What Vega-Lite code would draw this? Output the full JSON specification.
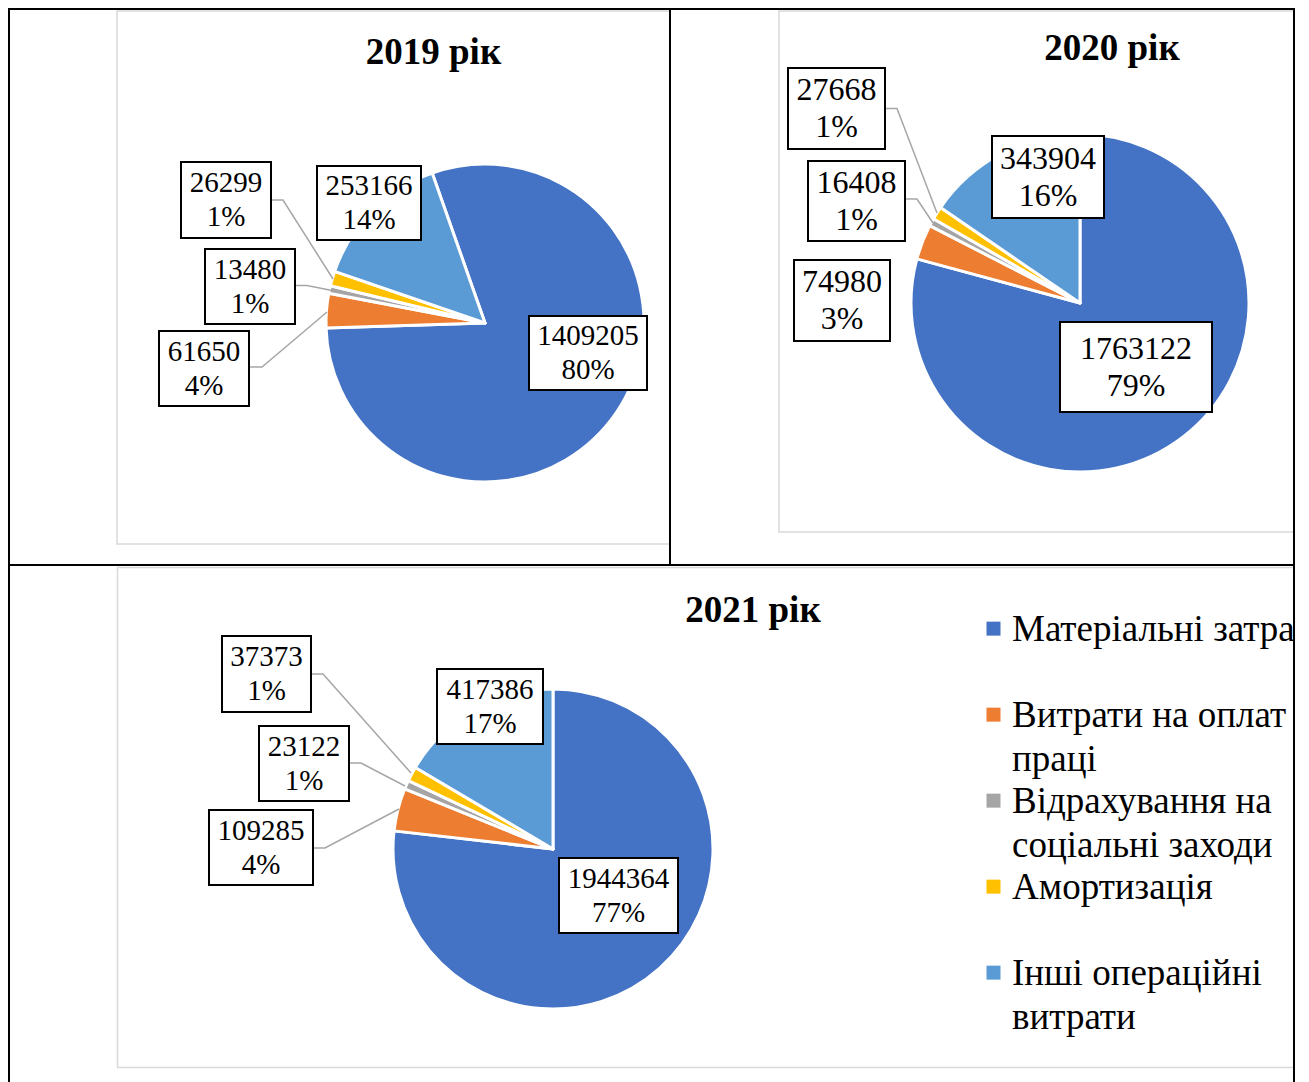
{
  "$schema": "https://vega.github.io/schema/vega-lite/v6.json",
  "background": "white",
  "padding": {"left": 7, "top": 6, "right": 0, "bottom": 0},
  "spacing": -2,
  "config": {
    "view": {"stroke": "black", "strokeWidth": 2},
    "font": "Liberation Serif",
    "title": {"font": "Liberation Serif", "fontSize": 37, "fontWeight": "bold", "color": "black", "baseline": "alphabetic", "anchor": "middle"},
    "text": {"font": "Liberation Serif", "align": "center", "baseline": "middle", "lineBreak": "\n", "color": "black"}
  },
  "datasets": {
    "costs": [
      {"year": 2019, "n": 1, "category": "Матеріальні затрати", "value": 1409205, "pct": 80},
      {"year": 2019, "n": 2, "category": "Витрати на оплату праці", "value": 61650, "pct": 4},
      {"year": 2019, "n": 3, "category": "Відрахування на соціальні заходи", "value": 13480, "pct": 1},
      {"year": 2019, "n": 4, "category": "Амортизація", "value": 26299, "pct": 1},
      {"year": 2019, "n": 5, "category": "Інші операційні витрати", "value": 253166, "pct": 14},
      {"year": 2020, "n": 1, "category": "Матеріальні затрати", "value": 1763122, "pct": 79},
      {"year": 2020, "n": 2, "category": "Витрати на оплату праці", "value": 74980, "pct": 3},
      {"year": 2020, "n": 3, "category": "Відрахування на соціальні заходи", "value": 16408, "pct": 1},
      {"year": 2020, "n": 4, "category": "Амортизація", "value": 27668, "pct": 1},
      {"year": 2020, "n": 5, "category": "Інші операційні витрати", "value": 343904, "pct": 16},
      {"year": 2021, "n": 1, "category": "Матеріальні затрати", "value": 1944364, "pct": 77},
      {"year": 2021, "n": 2, "category": "Витрати на оплату праці", "value": 109285, "pct": 4},
      {"year": 2021, "n": 3, "category": "Відрахування на соціальні заходи", "value": 23122, "pct": 1},
      {"year": 2021, "n": 4, "category": "Амортизація", "value": 37373, "pct": 1},
      {"year": 2021, "n": 5, "category": "Інші операційні витрати", "value": 417386, "pct": 17}
    ]
  },
  "vconcat": [
    {
      "spacing": 0,
      "bounds": "flush",
      "hconcat": [
        {
          "width": 661, "height": 554,
          "view": {"stroke": "black", "strokeWidth": 2, "strokeCap": "square", "strokeDash": [1215, 661, 554]},
          "title": {"text": "2019 рік", "offset": -64, "dx": 94},
          "data": {"name": "costs"},
          "transform": [{"filter": "datum.year == 2019"}, {"calculate": "datum.value + '\\n' + datum.pct + '%'", "as": "lbl"}],
          "layer": [
            {"transform": [{"filter": "datum.n == 1"}], "mark": {"type": "point", "shape": "M329.5,-275H-222.5V258H329.5", "size": 4, "filled": false, "stroke": "#D9D9D9", "strokeWidth": 1.5, "opacity": 1}, "encoding": {}},
            {"mark": {"type": "arc", "outerRadius": 159, "xOffset": 145.5, "yOffset": 37, "stroke": "white", "strokeWidth": 3, "strokeJoin": "round"},
             "encoding": {
               "theta": {"field": "value", "type": "quantitative", "stack": true, "scale": {"range": [-0.3386, 5.9446]}},
               "color": {"field": "category", "type": "nominal", "scale": {"domain": ["Матеріальні затрати", "Витрати на оплату праці", "Відрахування на соціальні заходи", "Амортизація", "Інші операційні витрати"], "range": ["#4472C4", "#ED7D31", "#A5A5A5", "#FFC000", "#5B9BD5"]}, "legend": null},
               "order": {"field": "n", "type": "quantitative", "sort": "ascending"}
             }},
            {"transform": [{"filter": "datum.n == 1"}], "layer": [
              {"mark": {"type": "point", "shape": "M-59,-37H59V37H-59Z", "size": 4, "filled": true, "fill": "white", "stroke": "black", "strokeWidth": 2, "opacity": 1, "xOffset": 248.5, "yOffset": 67}, "encoding": {}},
              {"mark": {"type": "text", "fontSize": 29, "lineHeight": 34, "dx": 248.5, "dy": 50}, "encoding": {"text": {"field": "lbl", "type": "nominal"}}}
            ]},
            {"transform": [{"filter": "datum.n == 5"}], "layer": [
              {"mark": {"type": "point", "shape": "M-52,-37H52V37H-52Z", "size": 4, "filled": true, "fill": "white", "stroke": "black", "strokeWidth": 2, "opacity": 1, "xOffset": 29.5, "yOffset": -83}, "encoding": {}},
              {"mark": {"type": "text", "fontSize": 29, "lineHeight": 34, "dx": 29.5, "dy": -100}, "encoding": {"text": {"field": "lbl", "type": "nominal"}}}
            ]},
            {"transform": [{"filter": "datum.n == 4"}], "layer": [
              {"mark": {"type": "point", "shape": "M46,0L57,0L107,79", "size": 4, "filled": false, "stroke": "#A6A6A6", "strokeWidth": 1.5, "opacity": 1, "xOffset": -113.5, "yOffset": -86}, "encoding": {}},
              {"mark": {"type": "point", "shape": "M-45,-38H45V38H-45Z", "size": 4, "filled": true, "fill": "white", "stroke": "black", "strokeWidth": 2, "opacity": 1, "xOffset": -113.5, "yOffset": -86}, "encoding": {}},
              {"mark": {"type": "text", "fontSize": 29, "lineHeight": 34, "dx": -113.5, "dy": -103}, "encoding": {"text": {"field": "lbl", "type": "nominal"}}}
            ]},
            {"transform": [{"filter": "datum.n == 3"}], "layer": [
              {"mark": {"type": "point", "shape": "M46,-1L57,-1L82,4", "size": 4, "filled": false, "stroke": "#A6A6A6", "strokeWidth": 1.5, "opacity": 1, "xOffset": -89.5, "yOffset": 0.5}, "encoding": {}},
              {"mark": {"type": "point", "shape": "M-45,-37.5H45V37.5H-45Z", "size": 4, "filled": true, "fill": "white", "stroke": "black", "strokeWidth": 2, "opacity": 1, "xOffset": -89.5, "yOffset": 0.5}, "encoding": {}},
              {"mark": {"type": "text", "fontSize": 29, "lineHeight": 34, "dx": -89.5, "dy": -16.5}, "encoding": {"text": {"field": "lbl", "type": "nominal"}}}
            ]},
            {"transform": [{"filter": "datum.n == 2"}], "layer": [
              {"mark": {"type": "point", "shape": "M46,-1.5L58,-1.5L123,-56.5", "size": 4, "filled": false, "stroke": "#A6A6A6", "strokeWidth": 1.5, "opacity": 1, "xOffset": -135.5, "yOffset": 82.5}, "encoding": {}},
              {"mark": {"type": "point", "shape": "M-45,-37.5H45V37.5H-45Z", "size": 4, "filled": true, "fill": "white", "stroke": "black", "strokeWidth": 2, "opacity": 1, "xOffset": -135.5, "yOffset": 82.5}, "encoding": {}},
              {"mark": {"type": "text", "fontSize": 29, "lineHeight": 34, "dx": -135.5, "dy": 65.5}, "encoding": {"text": {"field": "lbl", "type": "nominal"}}}
            ]}
          ]
        },
        {
          "width": 624, "height": 554,
          "view": {"stroke": "black", "strokeWidth": 2, "strokeCap": "square", "strokeDash": [1178, 624, 554]},
          "title": {"text": "2020 рік", "offset": -60, "dx": 130},
          "data": {"name": "costs"},
          "transform": [{"filter": "datum.year == 2020"}, {"calculate": "datum.value + '\\n' + datum.pct + '%'", "as": "lbl"}],
          "layer": [
            {"transform": [{"filter": "datum.n == 1"}], "mark": {"type": "point", "shape": "M311,-275H-203V246H311", "size": 4, "filled": false, "stroke": "#D9D9D9", "strokeWidth": 1.5, "opacity": 1}, "encoding": {}},
            {"mark": {"type": "arc", "outerRadius": 169, "xOffset": 98, "yOffset": 17, "stroke": "white", "strokeWidth": 3, "strokeJoin": "round"},
             "encoding": {
               "theta": {"field": "value", "type": "quantitative", "stack": true, "scale": {"range": [0, 6.2832]}},
               "color": {"field": "category", "type": "nominal", "scale": {"domain": ["Матеріальні затрати", "Витрати на оплату праці", "Відрахування на соціальні заходи", "Амортизація", "Інші операційні витрати"], "range": ["#4472C4", "#ED7D31", "#A5A5A5", "#FFC000", "#5B9BD5"]}, "legend": null},
               "order": {"field": "n", "type": "quantitative", "sort": "ascending"}
             }},
            {"transform": [{"filter": "datum.n == 1"}], "layer": [
              {"mark": {"type": "point", "shape": "M-76,-45H76V45H-76Z", "size": 4, "filled": true, "fill": "white", "stroke": "black", "strokeWidth": 2, "opacity": 1, "xOffset": 154, "yOffset": 81}, "encoding": {}},
              {"mark": {"type": "text", "fontSize": 32, "lineHeight": 37, "dx": 154, "dy": 62.5}, "encoding": {"text": {"field": "lbl", "type": "nominal"}}}
            ]},
            {"transform": [{"filter": "datum.n == 5"}], "layer": [
              {"mark": {"type": "point", "shape": "M-56,-41H56V41H-56Z", "size": 4, "filled": true, "fill": "white", "stroke": "black", "strokeWidth": 2, "opacity": 1, "xOffset": 66, "yOffset": -109}, "encoding": {}},
              {"mark": {"type": "text", "fontSize": 32, "lineHeight": 37, "dx": 66, "dy": -127.5}, "encoding": {"text": {"field": "lbl", "type": "nominal"}}}
            ]},
            {"transform": [{"filter": "datum.n == 4"}], "layer": [
              {"mark": {"type": "point", "shape": "M48.5,0L60.5,0L100.5,104.5", "size": 4, "filled": false, "stroke": "#A6A6A6", "strokeWidth": 1.5, "opacity": 1, "xOffset": -145.5, "yOffset": -177.5}, "encoding": {}},
              {"mark": {"type": "point", "shape": "M-48.5,-40.5H48.5V40.5H-48.5Z", "size": 4, "filled": true, "fill": "white", "stroke": "black", "strokeWidth": 2, "opacity": 1, "xOffset": -145.5, "yOffset": -177.5}, "encoding": {}},
              {"mark": {"type": "text", "fontSize": 32, "lineHeight": 37, "dx": -145.5, "dy": -196}, "encoding": {"text": {"field": "lbl", "type": "nominal"}}}
            ]},
            {"transform": [{"filter": "datum.n == 3"}], "layer": [
              {"mark": {"type": "point", "shape": "M49.5,-2L60.5,-2L76.5,22", "size": 4, "filled": false, "stroke": "#A6A6A6", "strokeWidth": 1.5, "opacity": 1, "xOffset": -125.5, "yOffset": -85}, "encoding": {}},
              {"mark": {"type": "point", "shape": "M-48.5,-40H48.5V40H-48.5Z", "size": 4, "filled": true, "fill": "white", "stroke": "black", "strokeWidth": 2, "opacity": 1, "xOffset": -125.5, "yOffset": -85}, "encoding": {}},
              {"mark": {"type": "text", "fontSize": 32, "lineHeight": 37, "dx": -125.5, "dy": -103.5}, "encoding": {"text": {"field": "lbl", "type": "nominal"}}}
            ]},
            {"transform": [{"filter": "datum.n == 2"}], "layer": [
              {"mark": {"type": "point", "shape": "M-48,-40.5H48V40.5H-48Z", "size": 4, "filled": true, "fill": "white", "stroke": "black", "strokeWidth": 2, "opacity": 1, "xOffset": -140, "yOffset": 14.5}, "encoding": {}},
              {"mark": {"type": "text", "fontSize": 32, "lineHeight": 37, "dx": -140, "dy": -4}, "encoding": {"text": {"field": "lbl", "type": "nominal"}}}
            ]}
          ]
        }
      ]
    },
    {
      "width": 1285, "height": 516,
      "view": {"stroke": "black", "strokeWidth": 2, "strokeCap": "square", "strokeDash": [1801, 1285, 516]},
      "title": {"text": "2021 рік", "offset": -65, "dx": 101.5},
      "data": {"name": "costs"},
      "transform": [
        {"filter": "datum.year == 2021"},
        {"calculate": "datum.value + '\\n' + datum.pct + '%'", "as": "lbl"},
        {"calculate": "datum.n == 2 ? 'Витрати на оплату\\nпраці' : datum.n == 3 ? 'Відрахування на\\nсоціальні заходи' : datum.n == 5 ? 'Інші операційні\\nвитрати' : datum.category", "as": "leg"}
      ],
      "layer": [
        {"transform": [{"filter": "datum.n == 1"}], "mark": {"type": "point", "shape": "M641.5,-255.5H-534V244.5H641.5", "size": 4, "filled": false, "stroke": "#D9D9D9", "strokeWidth": 1.5, "opacity": 1}, "encoding": {}},
        {"mark": {"type": "arc", "outerRadius": 160, "xOffset": -98.5, "yOffset": 26, "stroke": "white", "strokeWidth": 3, "strokeJoin": "round"},
         "encoding": {
           "theta": {"field": "value", "type": "quantitative", "stack": true, "scale": {"range": [0, 6.2832]}},
           "color": {"field": "category", "type": "nominal", "scale": {"domain": ["Матеріальні затрати", "Витрати на оплату праці", "Відрахування на соціальні заходи", "Амортизація", "Інші операційні витрати"], "range": ["#4472C4", "#ED7D31", "#A5A5A5", "#FFC000", "#5B9BD5"]}, "legend": null},
           "order": {"field": "n", "type": "quantitative", "sort": "ascending"}
         }},
        {"transform": [{"filter": "datum.n == 1"}], "layer": [
          {"mark": {"type": "point", "shape": "M-59.5,-37.5H59.5V37.5H-59.5Z", "size": 4, "filled": true, "fill": "white", "stroke": "black", "strokeWidth": 2, "opacity": 1, "xOffset": -33, "yOffset": 72.5}, "encoding": {}},
          {"mark": {"type": "text", "fontSize": 29, "lineHeight": 34, "dx": -33, "dy": 55.5}, "encoding": {"text": {"field": "lbl", "type": "nominal"}}}
        ]},
        {"transform": [{"filter": "datum.n == 5"}], "layer": [
          {"mark": {"type": "point", "shape": "M-53,-37.5H53V37.5H-53Z", "size": 4, "filled": true, "fill": "white", "stroke": "black", "strokeWidth": 2, "opacity": 1, "xOffset": -161.5, "yOffset": -116.5}, "encoding": {}},
          {"mark": {"type": "text", "fontSize": 29, "lineHeight": 34, "dx": -161.5, "dy": -133.5}, "encoding": {"text": {"field": "lbl", "type": "nominal"}}}
        ]},
        {"transform": [{"filter": "datum.n == 4"}], "layer": [
          {"mark": {"type": "point", "shape": "M44.5,0L56.5,0L144.5,99", "size": 4, "filled": false, "stroke": "#A6A6A6", "strokeWidth": 1.5, "opacity": 1, "xOffset": -385, "yOffset": -149}, "encoding": {}},
          {"mark": {"type": "point", "shape": "M-44.5,-38H44.5V38H-44.5Z", "size": 4, "filled": true, "fill": "white", "stroke": "black", "strokeWidth": 2, "opacity": 1, "xOffset": -385, "yOffset": -149}, "encoding": {}},
          {"mark": {"type": "text", "fontSize": 29, "lineHeight": 34, "dx": -385, "dy": -166}, "encoding": {"text": {"field": "lbl", "type": "nominal"}}}
        ]},
        {"transform": [{"filter": "datum.n == 3"}], "layer": [
          {"mark": {"type": "point", "shape": "M45,-0.5L57,-0.5L101,22.5", "size": 4, "filled": false, "stroke": "#A6A6A6", "strokeWidth": 1.5, "opacity": 1, "xOffset": -347.5, "yOffset": -59.5}, "encoding": {}},
          {"mark": {"type": "point", "shape": "M-45,-37.5H45V37.5H-45Z", "size": 4, "filled": true, "fill": "white", "stroke": "black", "strokeWidth": 2, "opacity": 1, "xOffset": -347.5, "yOffset": -59.5}, "encoding": {}},
          {"mark": {"type": "text", "fontSize": 29, "lineHeight": 34, "dx": -347.5, "dy": -76.5}, "encoding": {"text": {"field": "lbl", "type": "nominal"}}}
        ]},
        {"transform": [{"filter": "datum.n == 2"}], "layer": [
          {"mark": {"type": "point", "shape": "M52,0.5L64,0.5L138,-38.5", "size": 4, "filled": false, "stroke": "#A6A6A6", "strokeWidth": 1.5, "opacity": 1, "xOffset": -390.5, "yOffset": 24.5}, "encoding": {}},
          {"mark": {"type": "point", "shape": "M-52,-37.5H52V37.5H-52Z", "size": 4, "filled": true, "fill": "white", "stroke": "black", "strokeWidth": 2, "opacity": 1, "xOffset": -390.5, "yOffset": 24.5}, "encoding": {}},
          {"mark": {"type": "text", "fontSize": 29, "lineHeight": 34, "dx": -390.5, "dy": 7.5}, "encoding": {"text": {"field": "lbl", "type": "nominal"}}}
        ]},
        {"mark": {"type": "point", "shape": "square", "size": 196, "filled": true, "opacity": 1, "xOffset": 342},
         "encoding": {
           "y": {"field": "n", "type": "ordinal", "axis": null, "scale": {"type": "point", "padding": 1.0412, "align": 0.37}},
           "color": {"field": "category", "type": "nominal", "scale": {"domain": ["Матеріальні затрати", "Витрати на оплату праці", "Відрахування на соціальні заходи", "Амортизація", "Інші операційні витрати"], "range": ["#4472C4", "#ED7D31", "#A5A5A5", "#FFC000", "#5B9BD5"]}, "legend": null}
         }},
        {"mark": {"type": "text", "fontSize": 37, "lineHeight": 44, "align": "left", "baseline": "alphabetic", "dx": 360.5, "dy": 12, "limit": 283, "ellipsis": "\u200b"},
         "encoding": {
           "y": {"field": "n", "type": "ordinal", "axis": null, "scale": {"type": "point", "padding": 1.0412, "align": 0.37}},
           "text": {"field": "leg", "type": "nominal"}
         }}
      ]
    }
  ]
}
